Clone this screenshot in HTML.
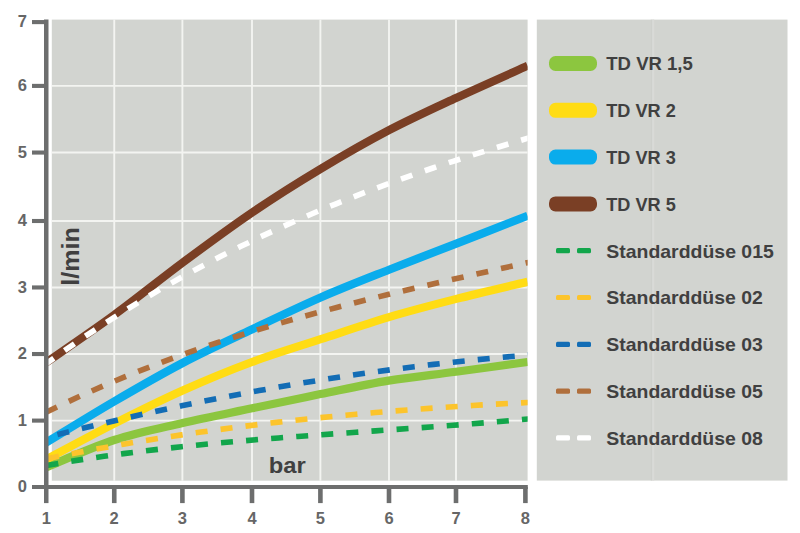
<!DOCTYPE html>
<html><head><meta charset="utf-8"><style>
html,body{margin:0;padding:0;background:#fff;width:800px;height:533px;overflow:hidden}
svg{display:block}
text{font-family:"Liberation Sans",sans-serif;font-weight:bold}
</style></head><body>
<svg width="800" height="533" viewBox="0 0 800 533">
<defs><clipPath id="cp"><rect x="46" y="0" width="481.6" height="533"/></clipPath></defs>
<rect x="51.8" y="19.6" width="475.8" height="461.1" fill="#d2d4d0"/>
<rect x="536.8" y="19.6" width="250.7" height="461" fill="#d2d4d0"/>
<line x1="651.3" y1="19.6" x2="651.3" y2="480.6" stroke="#cdcfcb" stroke-width="1"/><line x1="653.2" y1="19.6" x2="653.2" y2="480.6" stroke="#d9dad7" stroke-width="2"/>
<g stroke="#f3f4f1" stroke-width="1.9">
<line x1="114.25" y1="19.6" x2="114.25" y2="480.7"/>
<line x1="182.40" y1="19.6" x2="182.40" y2="480.7"/>
<line x1="252.00" y1="19.6" x2="252.00" y2="480.7"/>
<line x1="320.40" y1="19.6" x2="320.40" y2="480.7"/>
<line x1="389.00" y1="19.6" x2="389.00" y2="480.7"/>
<line x1="456.00" y1="19.6" x2="456.00" y2="480.7"/>
<line x1="51.8" y1="420.60" x2="527.6" y2="420.60"/>
<line x1="51.8" y1="354.04" x2="527.6" y2="354.04"/>
<line x1="51.8" y1="287.46" x2="527.6" y2="287.46"/>
<line x1="51.8" y1="221.00" x2="527.6" y2="221.00"/>
<line x1="51.8" y1="152.55" x2="527.6" y2="152.55"/>
<line x1="51.8" y1="85.90" x2="527.6" y2="85.90"/>
</g>
<g fill="none" clip-path="url(#cp)">
<path d="M45.90 467.40 C57.28 462.83 91.42 447.40 114.20 440.00 C136.98 432.60 159.63 428.28 182.60 423.00 C205.57 417.72 229.03 413.12 252.00 408.30 C274.97 403.48 297.63 398.72 320.40 394.10 C343.17 389.48 366.00 384.33 388.60 380.60 C411.20 376.88 432.83 374.85 456.00 371.75 C479.17 368.65 515.67 363.62 527.60 362.00" stroke="#8cc63f" stroke-width="8.2"/>
<path d="M45.90 459.55 C57.28 453.56 91.42 435.11 114.20 423.60 C136.98 412.09 159.63 400.77 182.60 390.50 C205.57 380.23 228.98 370.55 252.00 362.00 C275.02 353.45 297.87 346.68 320.70 339.20 C343.53 331.72 366.38 323.82 389.00 317.10 C411.62 310.38 433.30 304.78 456.40 298.90 C479.50 293.02 515.73 284.65 527.60 281.80" stroke="#ffdc14" stroke-width="8.2"/>
<path d="M45.90 442.74 C57.27 435.87 91.32 414.79 114.10 401.50 C136.88 388.21 159.67 375.00 182.60 363.00 C205.53 351.00 228.70 340.42 251.70 329.50 C274.70 318.58 297.72 307.47 320.60 297.50 C343.48 287.53 366.38 278.68 389.00 269.70 C411.62 260.72 433.20 252.58 456.30 243.60 C479.40 234.62 515.72 220.43 527.60 215.80" stroke="#0aacec" stroke-width="8.2"/>
<path d="M45.90 362.66 C57.27 354.72 91.28 331.69 114.10 315.00 C136.92 298.31 159.82 279.57 182.80 262.50 C205.78 245.43 229.05 228.18 252.00 212.60 C274.95 197.02 297.67 182.73 320.50 169.00 C343.33 155.27 366.42 142.03 389.00 130.20 C411.58 118.37 432.90 108.73 456.00 98.00 C479.10 87.27 515.67 71.17 527.60 65.80" stroke="#7a3f25" stroke-width="8.2"/>
<path d="M45.90 465.52 L65.29 462.21 L84.68 459.13 L104.06 456.27 L123.45 453.62 L142.84 451.15 L162.23 448.86 L181.62 446.72 L201.00 444.73 L220.39 442.87 L239.78 441.13 L259.17 439.48 L278.56 437.92 L297.94 436.43 L317.33 435.00 L336.72 433.60 L356.11 432.24 L375.50 430.88 L394.88 429.53 L414.27 428.15 L433.66 426.75 L453.05 425.30 L472.44 423.78 L491.82 422.19 L511.21 420.51 L530.60 418.72" stroke="#12a64b" stroke-width="5.6" stroke-dasharray="12.00 13.15" stroke-dashoffset="-25.73"/>
<path d="M45.90 458.88 L65.29 454.96 L84.68 451.22 L104.06 447.64 L123.45 444.22 L142.84 440.95 L162.23 437.84 L181.62 434.88 L201.00 432.06 L220.39 429.38 L239.78 426.83 L259.17 424.42 L278.56 422.14 L297.94 419.98 L317.33 417.95 L336.72 416.03 L356.11 414.22 L375.50 412.52 L394.88 410.93 L414.27 409.43 L433.66 408.04 L453.05 406.74 L472.44 405.52 L491.82 404.39 L511.21 403.35 L530.60 402.38" stroke="#fcc42c" stroke-width="5.6" stroke-dasharray="12.00 13.14" stroke-dashoffset="-26.37"/>
<path d="M45.90 437.54 L65.29 432.63 L84.68 427.84 L104.06 423.17 L123.45 418.64 L142.84 414.23 L162.23 409.95 L181.62 405.80 L201.00 401.79 L220.39 397.91 L239.78 394.16 L259.17 390.55 L278.56 387.08 L297.94 383.74 L317.33 380.55 L336.72 377.49 L356.11 374.58 L375.50 371.81 L394.88 369.18 L414.27 366.70 L433.66 364.37 L453.05 362.18 L472.44 360.14 L491.82 358.26 L511.21 356.52 L530.60 354.94" stroke="#136db5" stroke-width="5.6" stroke-dasharray="12.00 13.14" stroke-dashoffset="-11.87"/>
<path d="M45.90 412.33 L65.29 402.99 L84.68 394.06 L104.06 385.53 L123.45 377.37 L142.84 369.57 L162.23 362.11 L181.62 354.98 L201.00 348.15 L220.39 341.61 L239.78 335.35 L259.17 329.33 L278.56 323.55 L297.94 318.00 L317.33 312.64 L336.72 307.47 L356.11 302.46 L375.50 297.60 L394.88 292.87 L414.27 288.26 L433.66 283.74 L453.05 279.31 L472.44 274.93 L491.82 270.60 L511.21 266.29 L530.60 261.99" stroke="#b06f3c" stroke-width="5.6" stroke-dasharray="12.00 13.17" stroke-dashoffset="-25.45"/>
<path d="M45.90 363.86 L65.29 350.00 L84.68 336.66 L104.06 323.82 L123.45 311.48 L142.84 299.61 L162.23 288.20 L181.62 277.24 L201.00 266.70 L220.39 256.57 L239.78 246.84 L259.17 237.48 L278.56 228.49 L297.94 219.85 L317.33 211.53 L336.72 203.54 L356.11 195.84 L375.50 188.43 L394.88 181.28 L414.27 174.39 L433.66 167.73 L453.05 161.29 L472.44 155.05 L491.82 149.00 L511.21 143.13 L530.60 137.40" stroke="#ffffff" stroke-width="5.6" stroke-dasharray="12.00 13.25" stroke-dashoffset="-22.96"/>
</g>
<g fill="#6d6e6e">
<rect x="44" y="19.5" width="4.5" height="483.6"/>
<rect x="32" y="485" width="495.8" height="4"/>
<rect x="32" y="418.55" width="14" height="4.1"/>
<rect x="32" y="351.99" width="14" height="4.1"/>
<rect x="32" y="285.41" width="14" height="4.1"/>
<rect x="32" y="218.95" width="14" height="4.1"/>
<rect x="32" y="150.50" width="14" height="4.1"/>
<rect x="32" y="83.85" width="14" height="4.1"/>
<rect x="32" y="20.05" width="14" height="4.1"/>
<rect x="111.95" y="487" width="4.6" height="16.1"/>
<rect x="180.10" y="487" width="4.6" height="16.1"/>
<rect x="249.70" y="487" width="4.6" height="16.1"/>
<rect x="318.10" y="487" width="4.6" height="16.1"/>
<rect x="386.70" y="487" width="4.6" height="16.1"/>
<rect x="453.70" y="487" width="4.6" height="16.1"/>
<rect x="523.10" y="487" width="4.6" height="16.1"/>
</g>
<g fill="#666666" font-size="16.5">
<text x="27" y="492.3" text-anchor="end">0</text>
<text x="27" y="425.9" text-anchor="end">1</text>
<text x="27" y="359.3" text-anchor="end">2</text>
<text x="27" y="292.8" text-anchor="end">3</text>
<text x="27" y="226.3" text-anchor="end">4</text>
<text x="27" y="157.9" text-anchor="end">5</text>
<text x="27" y="91.2" text-anchor="end">6</text>
<text x="27" y="27.4" text-anchor="end">7</text>
<text x="46.3" y="523.8" text-anchor="middle">1</text>
<text x="114.2" y="523.8" text-anchor="middle">2</text>
<text x="182.4" y="523.8" text-anchor="middle">3</text>
<text x="252.0" y="523.8" text-anchor="middle">4</text>
<text x="320.4" y="523.8" text-anchor="middle">5</text>
<text x="389.0" y="523.8" text-anchor="middle">6</text>
<text x="456.0" y="523.8" text-anchor="middle">7</text>
<text x="525.4" y="523.8" text-anchor="middle">8</text>
</g>
<text x="0" y="0" font-size="24" fill="#404040" transform="translate(78.9 285.8) rotate(-90)" textLength="58.5" lengthAdjust="spacingAndGlyphs">l/min</text>
<text x="268.7" y="473" font-size="22.5" fill="#404040" textLength="37" lengthAdjust="spacingAndGlyphs">bar</text>
<g fill="#404040" font-size="19">
<rect x="549" y="56.0" width="48" height="15" rx="6.5" fill="#8cc63f"/>
<text x="606.3" y="70.3" textLength="86.5" lengthAdjust="spacingAndGlyphs">TD VR 1,5</text>
<rect x="549" y="102.8" width="48" height="15" rx="6.5" fill="#ffdc14"/>
<text x="606.3" y="117.1" textLength="69.5" lengthAdjust="spacingAndGlyphs">TD VR 2</text>
<rect x="549" y="149.6" width="48" height="15" rx="6.5" fill="#0aacec"/>
<text x="606.3" y="163.9" textLength="69.5" lengthAdjust="spacingAndGlyphs">TD VR 3</text>
<rect x="549" y="196.4" width="48" height="15" rx="6.5" fill="#7a3f25"/>
<text x="606.3" y="210.7" textLength="69.5" lengthAdjust="spacingAndGlyphs">TD VR 5</text>
<rect x="556" y="248.1" width="14" height="5.2" rx="1.5" fill="#12a64b"/>
<rect x="577" y="248.1" width="14" height="5.2" rx="1.5" fill="#12a64b"/>
<text x="606.3" y="257.5" textLength="167.5" lengthAdjust="spacingAndGlyphs">Standarddüse 015</text>
<rect x="556" y="294.9" width="14" height="5.2" rx="1.5" fill="#fcc42c"/>
<rect x="577" y="294.9" width="14" height="5.2" rx="1.5" fill="#fcc42c"/>
<text x="606.3" y="304.3" textLength="156.5" lengthAdjust="spacingAndGlyphs">Standarddüse 02</text>
<rect x="556" y="341.7" width="14" height="5.2" rx="1.5" fill="#136db5"/>
<rect x="577" y="341.7" width="14" height="5.2" rx="1.5" fill="#136db5"/>
<text x="606.3" y="351.1" textLength="156.5" lengthAdjust="spacingAndGlyphs">Standarddüse 03</text>
<rect x="556" y="388.5" width="14" height="5.2" rx="1.5" fill="#b06f3c"/>
<rect x="577" y="388.5" width="14" height="5.2" rx="1.5" fill="#b06f3c"/>
<text x="606.3" y="397.9" textLength="156.5" lengthAdjust="spacingAndGlyphs">Standarddüse 05</text>
<rect x="556" y="435.3" width="14" height="5.2" rx="1.5" fill="#ffffff"/>
<rect x="577" y="435.3" width="14" height="5.2" rx="1.5" fill="#ffffff"/>
<text x="606.3" y="444.7" textLength="156.5" lengthAdjust="spacingAndGlyphs">Standarddüse 08</text>
</g>
</svg>
</body></html>
